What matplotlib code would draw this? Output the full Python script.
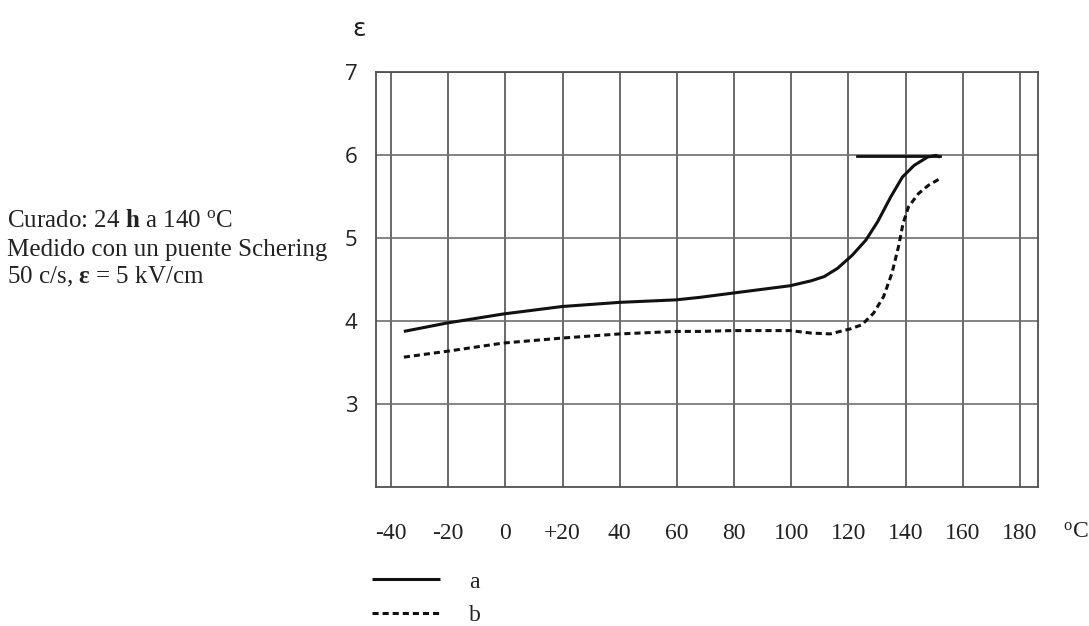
import matplotlib
matplotlib.use("Agg")
import matplotlib.pyplot as plt

plt.rcParams["mathtext.fontset"] = "custom"
plt.rcParams["mathtext.rm"] = "Liberation Serif"
plt.rcParams["mathtext.bf"] = "Liberation Serif:bold"
plt.rcParams["mathtext.it"] = "Liberation Serif:italic"

# Temperature (°C) and permittivity for the two curves
temp_a = [-35.5, -20.6, -0.7, 19.9, 40, 59.7, 68, 79.2, 99.6, 107, 111.5,
          116.2, 121.4, 126.1, 130.2, 134.8, 138.9, 143, 147.7, 150.6, 152]
eps_a = [3.87, 3.97, 4.08, 4.17, 4.22, 4.25, 4.28, 4.33, 4.42, 4.48, 4.53,
         4.63, 4.79, 4.97, 5.19, 5.49, 5.73, 5.87, 5.97, 5.99, 5.97]

temp_b = [-35.5, -20.6, -0.7, 19.9, 40, 59.7, 68, 79.2, 99.6, 107, 113.6, 120.6,
          124.7, 128.8, 132.3, 135.2, 137.5, 139.1, 141, 144.5, 148, 151.5]
eps_b = [3.56, 3.63, 3.73, 3.79, 3.84, 3.87, 3.87, 3.88, 3.88, 3.85, 3.84, 3.90,
         3.95, 4.09, 4.29, 4.57, 4.89, 5.17, 5.37, 5.53, 5.63, 5.70]

# short reference bar at the saturation level
sat_temp = [123, 152]
sat_eps = [5.98, 5.98]

x_ticks = [-40, -20, 0, 20, 40, 60, 80, 100, 120, 140, 160, 180]
x_labels = ["-40", "-20", "0", "+20", "40", "60", "80", "100", "120", "140", "160", "180"]
y_ticks = [3, 4, 5, 6, 7]
y_labels = ["3", "4", "5", "6", "7"]

fig = plt.figure(figsize=(10.89, 6.26), dpi=100)
ax = fig.add_axes([375.7 / 1089, 1 - 486.7 / 626, (1038 - 375.7) / 1089, (486.7 - 71.5) / 626])
ax.set_xlim(-45.35, 186.3)
ax.set_ylim(2.0, 7.0)

grid_col = "#505050"
for t in x_ticks:
    ax.axvline(t, color=grid_col, lw=1.2, zorder=1)
for v in y_ticks:
    ax.axhline(v, color="#6e6e6e", lw=1.2, zorder=1)
for s in ax.spines.values():
    s.set_color(grid_col)
    s.set_linewidth(1.3)

la, = ax.plot(temp_a, eps_a, color="#111111", lw=2.2, solid_capstyle="butt",
              solid_joinstyle="round", zorder=3, label="a")
lb, = ax.plot(temp_b, eps_b, color="#111111", lw=2.2, dashes=(2.0, 1.3), zorder=3, label="b")
ax.plot(sat_temp, sat_eps, color="#111111", lw=2.0, zorder=3)

ax.set_xticks(x_ticks)
ax.set_xticklabels(x_labels, family="Liberation Serif", fontsize=17, color="#222222")
ax.set_yticks(y_ticks)
ax.set_yticklabels(y_labels, family="Open Sans", fontsize=16, color="#222222")
ax.tick_params(axis="x", length=0, pad=26)
ax.tick_params(axis="y", length=0, pad=13)

ax.text(1.057, -0.109, r"$^{\mathrm{o}}$C", transform=ax.transAxes, ha="center", va="center",
        family="Liberation Serif", fontsize=17, color="#222222")

fig.text(359 / 1089, 1 - 29 / 626, "ε", ha="center", va="center",
         family="DejaVu Sans", fontsize=18, color="#222222")

note_font = dict(family="Liberation Serif", fontsize=18, color="#222222", ha="left", va="center")
fig.text(7 / 1089, 1 - 221 / 626, r"Curado: 24 $\mathbf{h}$ a 140 $^{\mathrm{o}}$C", **note_font)
fig.text(7 / 1089, 1 - 250 / 626, "Medido con un puente Schering", **note_font)
fig.text(7 / 1089, 1 - 277 / 626, r"50 c/s, $\mathbf{ε}$ = 5 kV/cm", **note_font)

leg = fig.legend(handles=[la, lb], loc="upper left", bbox_to_anchor=(372 / 1089, 1 - 571 / 626),
                 frameon=False, prop={"family": "Liberation Serif", "size": 17},
                 handlelength=2.9, handletextpad=1.2, labelspacing=0.5,
                 borderpad=0, borderaxespad=0)
for t in leg.get_texts():
    t.set_color("#222222")

fig.savefig("out.png", dpi=100, facecolor="white")
